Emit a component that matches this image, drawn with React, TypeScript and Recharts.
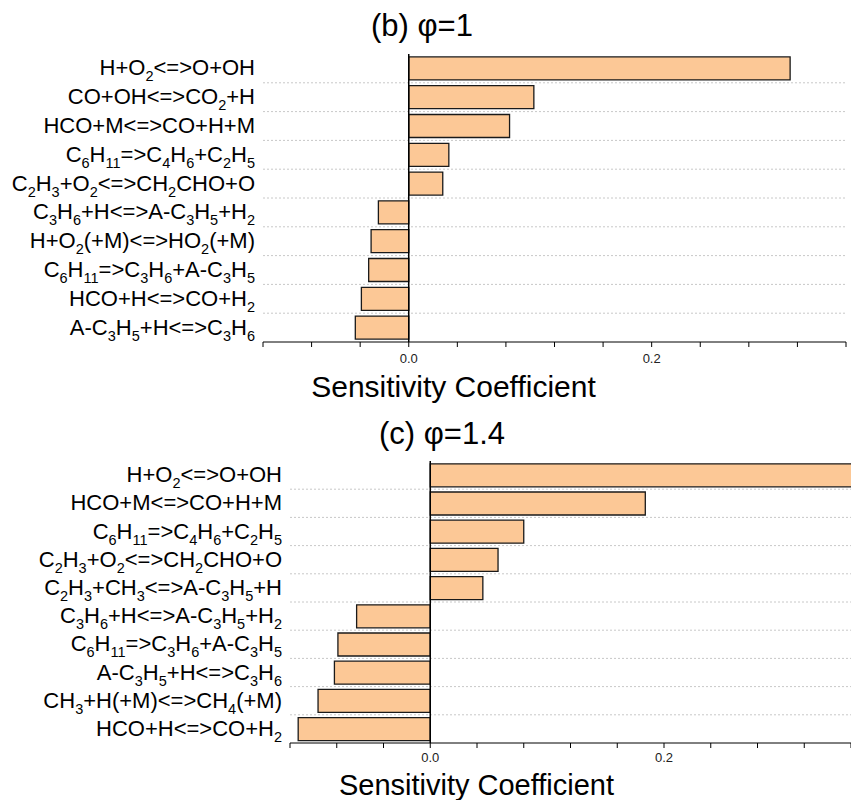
import { BarChart, Bar, XAxis, YAxis, CartesianGrid, ReferenceLine, Label } from 'recharts';

const FONT = '"Liberation Sans", Arial, Helvetica, sans-serif';

// reactions, "_n" marks a subscript
const topReactions = [
    'H+O_2<=>O+OH',
    'CO+OH<=>CO_2+H',
    'HCO+M<=>CO+H+M',
    'C_6H_11=>C_4H_6+C_2H_5',
    'C_2H_3+O_2<=>CH_2CHO+O',
    'C_3H_6+H<=>A-C_3H_5+H_2',
    'H+O_2(+M)<=>HO_2(+M)',
    'C_6H_11=>C_3H_6+A-C_3H_5',
    'HCO+H<=>CO+H_2',
    'A-C_3H_5+H<=>C_3H_6',
];
const topValues = [0.314, 0.103, 0.083, 0.033, 0.028, -0.025, -0.031, -0.033, -0.039, -0.044];

const bottomReactions = [
    'H+O_2<=>O+OH',
    'HCO+M<=>CO+H+M',
    'C_6H_11=>C_4H_6+C_2H_5',
    'C_2H_3+O_2<=>CH_2CHO+O',
    'C_2H_3+CH_3<=>A-C_3H_5+H',
    'C_3H_6+H<=>A-C_3H_5+H_2',
    'C_6H_11=>C_3H_6+A-C_3H_5',
    'A-C_3H_5+H<=>C_3H_6',
    'CH_3+H(+M)<=>CH_4(+M)',
    'HCO+H<=>CO+H_2',
];
const bottomValues = [0.37, 0.184, 0.08, 0.058, 0.045, -0.063, -0.079, -0.082, -0.096, -0.113];

const xTicks = [-0.12, -0.08, -0.04, 0, 0.04, 0.08, 0.12, 0.16, 0.2, 0.24, 0.28, 0.32, 0.36];
const xDomain = [-0.12, 0.36];

const fmtTick = (v: number) => (Math.abs(v) < 1e-9 ? '0.0' : Math.abs(v - 0.2) < 1e-9 ? '0.2' : '');

const ReactionTick = ({ x, y, payload }: any) => {
    const parts = String(payload.value).split(/_(\d+)/);
    let shift = 0;
    const spans: any[] = [];
    parts.forEach((p, i) => {
        if (!p) return;
        const sub = i % 2 === 1;
        const target = sub ? 6 : 0;
        spans.push(
            <tspan key={i} dy={target - shift} fontSize={sub ? 14.5 : 22}>{p}</tspan>
        );
        shift = target;
    });
    return (
        <text x={x} y={y + 7} textAnchor="end" fill="#000" fontFamily={FONT} fontSize={22}>
            {spans}
        </text>
    );
};

const SensPanel = ({ reactions, values, yWidth, marginTop, marginRight, height, axisHeight, tickGap, labelOffset, labelShift, labelSize }: any) => {
    const data = reactions.map((r: string, i: number) => ({ name: r, value: values[i] }));
    return (
        <BarChart
            width={851}
            height={height}
            data={data}
            layout="vertical"
            margin={{ top: marginTop, right: marginRight, bottom: 0, left: 0 }}
            barCategoryGap="10%"
        >
            <CartesianGrid
                vertical={false}
                stroke="#c8c8c8"
                strokeDasharray="2 2"
                horizontalCoordinatesGenerator={({ offset }: any) =>
                    reactions.slice(1).map((_: string, k: number) => offset.top + ((k + 1) * offset.height) / reactions.length)
                }
            />
            <XAxis
                type="number"
                domain={xDomain}
                ticks={xTicks}
                allowDataOverflow
                tickFormatter={fmtTick}
                tickSize={5}
                tickMargin={tickGap}
                height={axisHeight}
                stroke="#000"
                tick={{ fill: '#222', fontSize: 13, fontFamily: FONT }}
                interval={0}
            >
                <Label
                    content={(p: any) => {
                        const vb = p.viewBox;
                        return (
                            <text
                                x={vb.x + vb.width / 2 + labelShift}
                                y={vb.y + vb.height - labelOffset}
                                textAnchor="middle"
                                fontSize={labelSize}
                                fontFamily={FONT}
                                fill="#000"
                            >
                                Sensitivity Coefficient
                            </text>
                        );
                    }}
                />
            </XAxis>
            <YAxis
                type="category"
                dataKey="name"
                width={yWidth}
                axisLine={false}
                tickLine={false}
                tickSize={0}
                tickMargin={8}
                interval={0}
                tick={<ReactionTick />}
            />
            <Bar dataKey="value" fill="#FCC896" stroke="#1a1a1a" strokeWidth={1.3} isAnimationActive={false} />
            <ReferenceLine x={0} stroke="#000" strokeWidth={1.5} />
        </BarChart>
    );
};

export default function App() {
    return (
        <div style={{ position: 'absolute', left: 0, top: 0, width: 851, height: 800, background: '#fff', overflow: 'hidden' }}>
            <svg width={851} height={800} style={{ position: 'absolute', left: 0, top: 0 }}>
                <text x={422} y={36} textAnchor="middle" fontSize={31} fontFamily={FONT} fill="#000">(b) φ=1</text>
                <text x={442} y={444} textAnchor="middle" fontSize={31} fontFamily={FONT} fill="#000">(c) φ=1.4</text>
            </svg>
            <div style={{ position: 'absolute', left: 0, top: 0 }}>
                <SensPanel
                    reactions={topReactions}
                    values={topValues}
                    yWidth={263}
                    marginTop={54}
                    marginRight={5}
                    height={405}
                    axisHeight={63}
                    tickGap={7}
                    labelOffset={8}
                    labelShift={-101}
                    labelSize={30}
                />
            </div>
            <div style={{ position: 'absolute', left: 0, top: 400 }}>
                <SensPanel
                    reactions={bottomReactions}
                    values={bottomValues}
                    yWidth={290}
                    marginTop={61}
                    marginRight={0}
                    height={400}
                    axisHeight={57}
                    tickGap={5}
                    labelOffset={5}
                    labelShift={-94}
                    labelSize={29}
                />
            </div>
        </div>
    );
}
